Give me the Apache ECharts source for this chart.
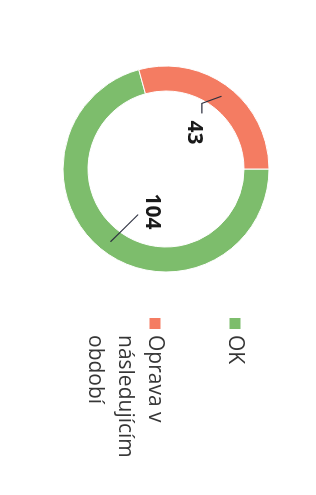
<!DOCTYPE html>
<html>
<head>
<meta charset="utf-8">
<script src="https://cdn.jsdelivr.net/npm/echarts@6/dist/echarts.min.js"></script>
<style>
  html, body { margin: 0; padding: 0; background: #fff; overflow: hidden; }
  #page { position: relative; width: 316px; height: 495px; overflow: hidden; }
  /* the picture is the chart turned a quarter turn clockwise */
  #chart {
    position: absolute; left: 316px; top: 0;
    width: 495px; height: 316px;
    transform-origin: 0 0; transform: rotate(90deg);
  }
</style>
</head>
<body>
<div id="page"><div id="chart"></div></div>
<script>
  const categories = ['OK', 'Oprava v\nnásledujícím\nobdobí']
  const values = [104, 43]
  const colors = ['#7dbd6c', '#f47c62']

  const CX = 169, CY = 150, R_IN = 78, R_OUT = 103
  const total = values.reduce((a, b) => a + b, 0)

  // mid angle of a slice, clockwise from 12 o'clock
  function midAngle(i) {
    let before = 0
    for (let k = 0; k < i; k++) before += values[k]
    return ((before + values[i] / 2) / total) * 2 * Math.PI
  }

  // labels sit in the hole, leader line runs from the ring to the label
  const leader = [
    { shift: [6, -14], end: [3, 14], elbow: 0 },
    { shift: [0, 0], end: [-19, -8], elbow: -10 },
  ]

  const legendText = { fontFamily: 'Open Sans', fontSize: 21, lineHeight: 30, color: '#363636' }

  const chart = echarts.init(document.getElementById('chart'))
  chart.setOption({
    backgroundColor: '#fff',
    animation: false,
    legend: [
      {
        data: [categories[0]],
        orient: 'vertical',
        left: 316,
        top: 66,
        padding: 0,
        itemWidth: 13,
        itemHeight: 13,
        icon: 'rect',
        selectedMode: false,
        textStyle: legendText,
      },
      {
        data: [categories[1]],
        orient: 'vertical',
        left: 316,
        top: 146,
        padding: 0,
        itemWidth: 13,
        itemHeight: 73,
        // square at the first text line, empty space below
        icon: 'path://M0,0h13v13h-13z M0,73h0.01v0.01h-0.01z',
        selectedMode: false,
        textStyle: legendText,
      },
    ],
    series: [
      {
        type: 'pie',
        center: [CX, CY],
        radius: [R_IN, R_OUT],
        startAngle: 90,
        clockwise: true,
        silent: true,
        itemStyle: { borderColor: '#fff', borderWidth: 1 },
        label: { show: false },
        labelLine: { show: false },
        data: categories.map((name, i) => ({ name: name, value: values[i], itemStyle: { color: colors[i] } })),
      },
      {
        // same slices, invisible, only to carry labels and leader lines above the ring
        type: 'pie',
        z: 5,
        center: [CX, CY],
        radius: [R_IN, R_OUT],
        startAngle: 90,
        clockwise: true,
        silent: true,
        avoidLabelOverlap: false,
        legendHoverLink: false,
        itemStyle: { color: 'rgba(0,0,0,0)', borderWidth: 0 },
        label: {
          show: true,
          position: 'outside',
          formatter: '{c}',
          fontFamily: 'Open Sans',
          fontWeight: 'bold',
          fontSize: 21,
          color: '#1a1a1a',
        },
        labelLine: { show: true, length: 5, length2: 5, lineStyle: { color: '#2e3140', width: 1.1 } },
        labelLayout: function (p) {
          const i = p.dataIndex
          const a = midAngle(i)
          const ux = Math.sin(a), uy = -Math.cos(a)
          const lx = CX + ux * 46 + leader[i].shift[0]
          const ly = CY + uy * 46 + leader[i].shift[1]
          const rm = (R_IN + R_OUT) / 2 + 1
          const start = [CX + ux * rm, CY + uy * rm]
          const end = [lx + leader[i].end[0], ly + leader[i].end[1]]
          const mid = leader[i].elbow
            ? [end[0] + leader[i].elbow, end[1]]
            : [(start[0] + end[0]) / 2, (start[1] + end[1]) / 2]
          return { x: lx, y: ly, align: 'center', verticalAlign: 'middle', labelLinePoints: [start, mid, end] }
        },
        emphasis: { disabled: true },
        data: categories.map((name, i) => ({ name: name, value: values[i] })),
      },
    ],
  })
</script>
</body>
</html>
